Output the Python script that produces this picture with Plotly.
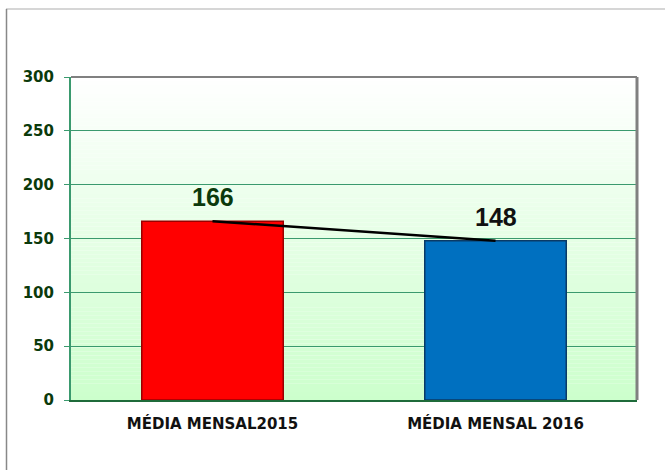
import plotly.graph_objects as go

categories = ["MÉDIA MENSAL2015", "MÉDIA MENSAL 2016"]
values = [166, 148]
bar_colors = ["#ff0000", "#0070c0"]
bar_edges = ["#9a0000", "#0a3a66"]
label_colors = ["#0b3a0b", "#111111"]
y_ticks = [0, 50, 100, 150, 200, 250, 300]

fig = go.Figure()
fig.add_trace(go.Bar(
    x=categories, y=values, width=0.5,
    marker=dict(color=bar_colors, line=dict(color=bar_edges, width=1.5)),
    hoverinfo="skip", showlegend=False,
))
fig.add_trace(go.Scatter(
    x=categories, y=values, mode="lines",
    line=dict(color="#000000", width=2.5),
    hoverinfo="skip", showlegend=False,
))

for c, v, col in zip(categories, values, label_colors):
    fig.add_annotation(x=c, y=v, text=str(v), showarrow=False,
                       yanchor="middle", yshift=24,
                       font=dict(family="Liberation Sans", size=25, color=col,
                                 weight="bold"))

# gradient background for plot area
n = 80
top = (255, 255, 255)
bot = (204, 255, 204)
shapes = []
for i in range(n):
    t = (i + 0.5) / n
    r = round(top[0] + (bot[0] - top[0]) * t)
    g = round(top[1] + (bot[1] - top[1]) * t)
    b = round(top[2] + (bot[2] - top[2]) * t)
    shapes.append(dict(type="rect", xref="x domain", yref="y domain",
                       x0=0, x1=1, y0=1 - (i + 1) / n, y1=1 - i / n,
                       fillcolor=f"rgb({r},{g},{b})", line=dict(width=0),
                       layer="below"))
# plot frame top and right
shapes.append(dict(type="line", xref="x domain", yref="y domain",
                   x0=0, x1=1, y0=1, y1=1, line=dict(color="#808080", width=2)))
shapes.append(dict(type="line", xref="x domain", yref="y domain",
                   x0=1, x1=1, y0=0, y1=1, line=dict(color="#808080", width=3)))
# outer chart frame
L, R, T, B = 71, 28, 77, 70
W, H = 665, 470
pw, ph = W - L - R, H - T - B
px = lambda v: (v - L) / pw
py = lambda v: (H - B - v) / ph
shapes.append(dict(type="line", xref="paper", yref="paper",
                   x0=px(6), x1=px(665), y0=py(9), y1=py(9),
                   line=dict(color="#c8c8c8", width=1.5)))
shapes.append(dict(type="line", xref="paper", yref="paper",
                   x0=px(6.5), x1=px(6.5), y0=py(9), y1=py(470),
                   line=dict(color="#888888", width=1.5)))

fig.update_layout(
    width=W, height=H,
    margin=dict(l=L, r=R, t=T, b=B),
    paper_bgcolor="white", plot_bgcolor="rgba(0,0,0,0)",
    shapes=shapes,
    xaxis=dict(range=[-0.5, 1.5], showgrid=False, showline=True,
               linecolor="#1f6b3a", linewidth=2, ticks="",
               tickfont=dict(family="DejaVu Sans", size=15, color="#111111",
                             weight="bold"),
               ticklabelstandoff=9),
    yaxis=dict(range=[0, 300], tickvals=y_ticks, showgrid=True,
               gridcolor="#3a9a6e", gridwidth=1, zeroline=False,
               showline=True, linecolor="#3a9a6e", linewidth=2,
               ticks="outside", ticklen=5, tickcolor="#3a9a6e",
               tickfont=dict(family="DejaVu Sans", size=15, color="#0b3a0b",
                             weight="bold"),
               ticklabelstandoff=7),
    font=dict(family="Liberation Sans"),
)

fig.write_html("out.html", config={"displayModeBar": False},
               post_script="document.body.style.margin='0';")
